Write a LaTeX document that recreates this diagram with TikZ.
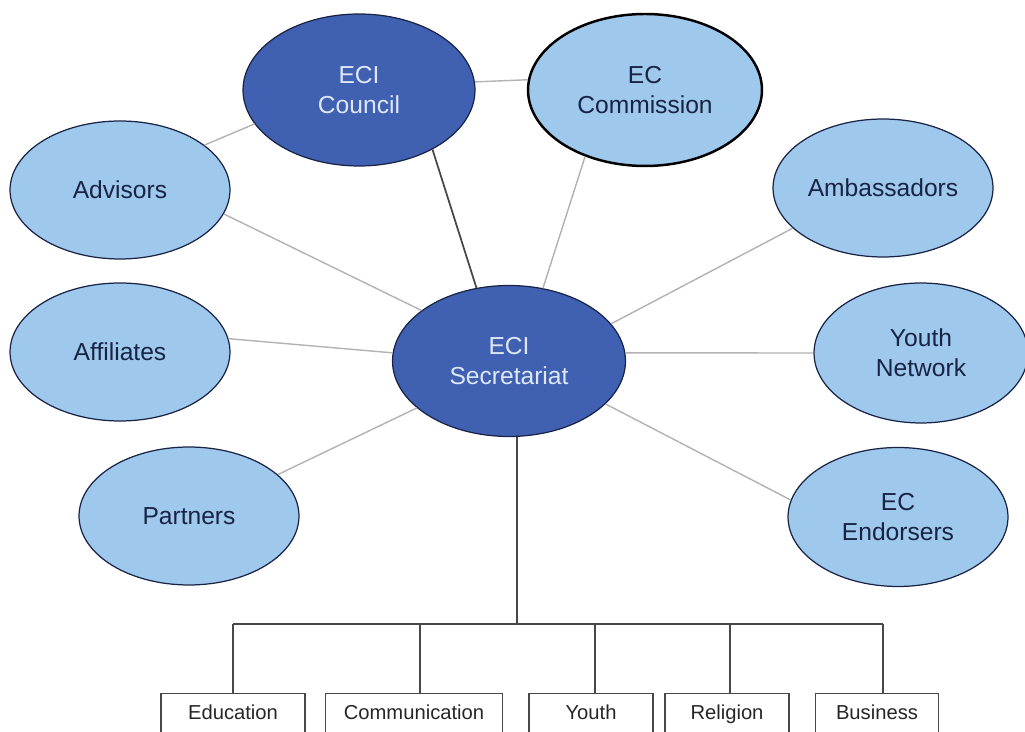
\documentclass[tikz,border=0pt]{standalone}
\usepackage{fontspec}
\setmainfont{Liberation Sans}
\usetikzlibrary{shapes.geometric}
\definecolor{darkblue}{RGB}{64,96,178}
\definecolor{lightblue}{RGB}{158,200,236}
\definecolor{navy}{RGB}{25,35,70}
\definecolor{paleblue}{RGB}{222,232,250}
\definecolor{spokegray}{RGB}{178,178,178}
\definecolor{treegray}{RGB}{72,72,72}
\tikzset{
  bubble/.style={ellipse,draw=navy,line width=0.7pt,fill=lightblue,text=navy,align=center,
    inner sep=0pt,minimum width=4.4cm,minimum height=2.76cm,font=\fontsize{14}{17}\selectfont},
  core/.style={bubble,fill=darkblue,text=paleblue},
  deptbox/.style={draw=treegray,line width=0.8pt,anchor=north,minimum height=0.84cm,inner sep=0pt,
    text height=0.75em,text depth=0.22em,text=black!85,font=\fontsize{11.5}{14}\selectfont},
  spoke/.style={draw=spokegray,line width=0.8pt},
  treeline/.style={draw=treegray,line width=1.1pt},
}
\begin{document}
\begin{tikzpicture}[x=0.02cm,y=-0.02cm]
\useasboundingbox (0,0) rectangle (1025,732);
% governing bodies
\node[core,minimum width=4.64cm,minimum height=3.04cm] (council) at (359,90) {ECI\\Council};
\node[bubble,draw=black,line width=1.4pt,minimum width=4.68cm,minimum height=3.04cm] (commission) at (645,90) {EC\\Commission};
\node[core,minimum width=4.66cm,minimum height=3.02cm] (secr) at (509,361) {ECI\\Secretariat};
% left and right circles
\node[bubble] (advisors) at (120,190) {Advisors};
\node[bubble] (affiliates) at (120,352) {Affiliates};
\node[bubble] (partners) at (189,516) {Partners};
\node[bubble] (ambassadors) at (883,188) {Ambassadors};
\node[bubble,minimum width=4.28cm,minimum height=2.8cm] (youthnet) at (921,353) {Youth\\Network};
\node[bubble,minimum height=2.78cm] (endorsers) at (898,517) {EC\\Endorsers};
% spokes
\draw[spoke] (council.4) -- (commission.175);
\draw[spoke] (advisors.28) -- (council.198);
\draw[treegray,line width=1pt] (council.-39) -- (secr.114);
\draw[spoke] (commission.228) -- (secr.65);
\draw[spoke] (advisors.-13) -- (secr.150);
\draw[spoke] (affiliates.7) -- (secr.176);
\draw[spoke] (partners.25) -- (secr.207);
\draw[spoke] (ambassadors.204) -- (secr.20);
\draw[spoke] (youthnet.180) -- (secr.4);
\draw[spoke] (endorsers.171) -- (secr.-24);
% departments
\node[deptbox,minimum width=2.88cm] (edu) at (233,693) {Education};
\node[deptbox,minimum width=3.54cm] (comm) at (414,693) {Communication};
\node[deptbox,minimum width=2.48cm] (youth) at (591,693) {Youth};
\node[deptbox,minimum width=2.48cm] (rel) at (727,693) {Religion};
\node[deptbox,minimum width=2.46cm] (busi) at (877,693) {Business};
\coordinate (bar) at (517,624);
\draw[treeline] (secr.-84) -- (secr.-84 |- bar);
\draw[treeline] (edu.north |- bar) -- ([xshift=0.12cm]busi.north |- bar);
\foreach \b/\s in {edu/0,comm/0.12,youth/0.08,rel/0.06,busi/0.12}
  \draw[treeline] ([xshift=\s cm]\b.north |- bar) -- ([xshift=\s cm]\b.north);
\end{tikzpicture}
\end{document}
